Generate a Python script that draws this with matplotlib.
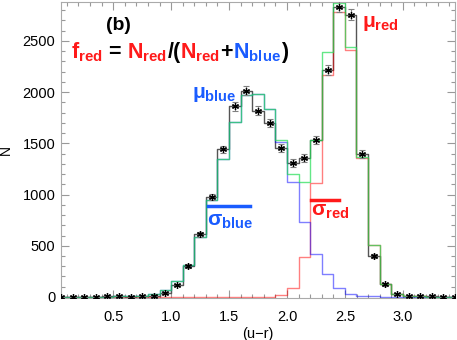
import numpy as np
import matplotlib
matplotlib.use("Agg")
import matplotlib.pyplot as plt
from matplotlib.lines import Line2D
from matplotlib.offsetbox import TextArea, HPacker, AnnotationBbox
from matplotlib.ticker import MultipleLocator

plt.rcParams['font.family'] = ['Liberation Sans', 'DejaVu Sans']
plt.rcParams['mathtext.fontset'] = 'custom'
plt.rcParams['mathtext.rm'] = 'Liberation Sans:bold'
plt.rcParams['mathtext.bf'] = 'Liberation Sans:bold'

# bin centres of the (u-r) histogram
ur = [0.05, 0.15, 0.25, 0.35, 0.45, 0.55, 0.65, 0.75, 0.85, 0.95,
      1.05, 1.15, 1.25, 1.35, 1.45, 1.55, 1.65, 1.75, 1.85, 1.95,
      2.05, 2.15, 2.25, 2.35, 2.45, 2.55, 2.65, 2.75, 2.85, 2.95,
      3.05, 3.15, 3.25, 3.35, 3.45]

# observed counts
counts = [0, 0, 0, 2, 5, 5, 3, 5, 12, 40,
          120, 300, 610, 975, 1440, 1860, 2015, 1820, 1700, 1455,
          1310, 1356, 1530, 2215, 2836, 2755, 1395, 402, 122, 28,
          10, 8, 5, 3, 2]

# model components
blue = [0, 0, 0, 1, 3, 5, 5, 12, 30, 70,
        155, 310, 590, 945, 1343, 1712, 1975, 1985, 1838, 1510,
        1120, 728, 420, 225, 90, 32, 10, 5, 3, 1,
        0, 0, 0, 0, 0]
red = [0, 0, 0, 0, 0, 0, 0, 0, 0, 0,
       0, 0, 0, 0, 0, 0, 0, 0, 2, 20,
       85, 392, 1110, 2170, 2785, 2413, 1355, 505, 122, 27,
       10, 6, 4, 2, 1]
total = [0, 0, 0, 1, 3, 5, 5, 12, 30, 70,
         155, 310, 590, 945, 1343, 1712, 1975, 1985, 1840, 1530,
         1205, 1120, 1530, 2395, 2875, 2445, 1365, 510, 125, 28,
         10, 6, 4, 2, 1]

W, H = 457, 340
fig = plt.figure(figsize=(W / 100, H / 100), dpi=100)
ax = fig.add_axes([61 / W, 1 - 298 / H, 394 / W, 296 / H])

ax.step(ur, counts, where='mid', color='#555555', lw=1.0, zorder=2)
ax.errorbar(ur, counts, yerr=np.sqrt(counts), fmt='none', ecolor='#808080',
            elinewidth=0.8, capsize=2.5, capthick=0.8, zorder=3)
ax.plot(ur, counts, ls='none', marker=(6, 2, 0), ms=5, mew=0.9,
        color='black', zorder=4)
ax.step(ur, red, where='mid', color='red', alpha=0.5, lw=1.0, zorder=2)
ax.step(ur, blue, where='mid', color='blue', alpha=0.5, lw=1.0, zorder=2)
ax.step(ur, total, where='mid', color='#22dd55', alpha=0.7, lw=1.0, zorder=2)

ax.set_xlim(0.05, 3.45)
ax.set_ylim(-10, 2880)
ax.xaxis.set_major_locator(MultipleLocator(0.5))
ax.xaxis.set_minor_locator(MultipleLocator(0.1))
ax.yaxis.set_major_locator(MultipleLocator(500))
ax.yaxis.set_minor_locator(MultipleLocator(100))
ax.set_xticks([0.5, 1.0, 1.5, 2.0, 2.5, 3.0])
ax.tick_params(which='both', direction='in', top=True, right=True,
               color='#999999', labelsize=10.5)
ax.tick_params(which='major', length=6, width=0.8)
ax.tick_params(which='minor', length=3, width=0.8)
ax.tick_params(axis='x', pad=8.5)
ax.tick_params(axis='y', pad=4)
for s in ax.spines.values():
    s.set_color('#aaaaaa')
    s.set_linewidth(0.8)
ax.set_xlabel('(u\u2212r)', fontsize=10.5, labelpad=2)
ax.set_ylabel('N', fontsize=10, labelpad=7)

RED = '#ff1a1a'
BLUE = '#1a5cff'


def fx(px):
    return px / W


def fy(py):
    return 1 - py / H


fig.text(fx(118), fy(25), '(b)', fontsize=14, fontweight='bold',
         ha='center', va='center')

parts = [(r'$\mathbf{f}_{\mathbf{red}}$', RED), (' = ', 'black'),
         (r'$\mathbf{N}_{\mathbf{red}}$', RED), ('/(', 'black'),
         (r'$\mathbf{N}_{\mathbf{red}}$', RED), ('+', 'black'),
         (r'$\mathbf{N}_{\mathbf{blue}}$', BLUE), (')', 'black')]
boxes = [TextArea(t, textprops=dict(color=c, fontsize=15.5, fontweight='bold'))
         for t, c in parts]
pack = HPacker(children=boxes, align='baseline', pad=0, sep=0)
ab = AnnotationBbox(pack, (fx(71), fy(52)), xycoords='figure fraction',
                    box_alignment=(0, 0.5), frameon=False)
fig.add_artist(ab)

fig.text(fx(192), fy(98), r'$\mathbf{\mu}_{\mathbf{blue}}$', color=BLUE,
         fontsize=15, va='baseline')
fig.text(fx(362), fy(27), r'$\mathbf{\mu}_{\mathbf{red}}$', color=RED,
         fontsize=15, va='baseline')
fig.text(fx(207), fy(225), r'$\mathbf{\sigma}_{\mathbf{blue}}$', color=BLUE,
         fontsize=15, va='baseline')
fig.text(fx(311), fy(215), r'$\mathbf{\sigma}_{\mathbf{red}}$', color=RED,
         fontsize=15, va='baseline')
fig.add_artist(Line2D([fx(208), fx(250)], [fy(206), fy(206)], color=BLUE,
                      lw=2.5, transform=fig.transFigure))
fig.add_artist(Line2D([fx(311), fx(339)], [fy(200), fy(200)], color=RED,
                      lw=2.5, transform=fig.transFigure))

fig.savefig('out.png', dpi=100)
